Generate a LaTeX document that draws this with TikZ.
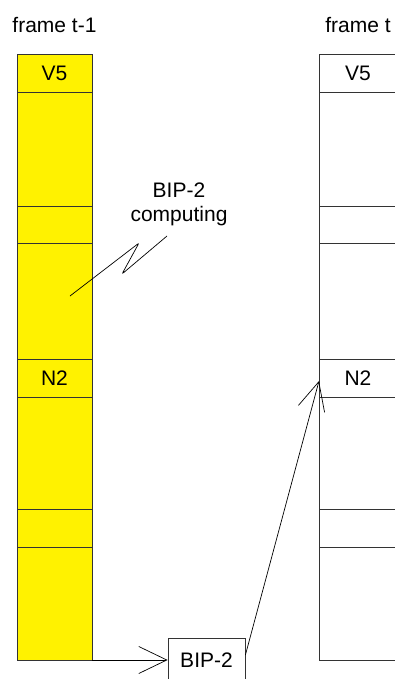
\documentclass[tikz,border=0pt]{standalone}
\usepackage{fontspec}
\setmainfont{Liberation Sans}
\usepackage{tikz}
\usetikzlibrary{arrows.meta, positioning}

\begin{document}
\begin{tikzpicture}[x=1pt, y=-1pt, font=\fontsize{21}{24}\selectfont,
   cell/.style={draw=black!80, line width=0.8pt},
   bar/.style={-{Straight Barb[length=28pt, width=27pt, line width=0.7pt]}, line width=0.7pt}]
  \useasboundingbox (0,0) rectangle (395,679);
  \clip (0,0) rectangle (395,679);
  % frame t-1 (yellow)
  \filldraw[cell, fill=yellow] (17,54) rectangle (92,660);
  \foreach \y in {92,206,243,359,397,509,547}
    \draw[cell] (17,\y) -- (92,\y);
  % frame t
  \draw[cell] (319,54) rectangle (397,660);
  \foreach \y in {92,206,243,359,397,509,547}
    \draw[cell] (319,\y) -- (397,\y);
  % labels
  \node (ta) at (54.5,25) {frame t-1};
  \node (tb) at (358,25) {frame t};
  \node (v5a) at (54.5,73) {V5};
  \node (n2a) at (54.5,378) {N2};
  \node (v5b) at (358,73) {V5};
  \node (n2b) at (358,378) {N2};
  % parity box
  \node[draw=black!80, line width=0.8pt, minimum width=77pt, minimum height=44pt, inner sep=0pt]
       (bip) at (206.5,660) {BIP-2};
  \coordinate (abot) at (92,660);
  \coordinate (bin) at (319,381);
  \draw[bar] (abot) -- (bip.west);
  \draw[bar] ([yshift=5pt]bip.east) -- (bin);
  % computing note
  \node[align=center] (comp) at (179,204) {BIP-2\\computing};
  \coordinate (spot) at (70,296);
  \draw[line width=0.7pt, rounded corners=2pt] (spot) -- (139,243) -- (122,274) -- (167,236);
\end{tikzpicture}
\end{document}
